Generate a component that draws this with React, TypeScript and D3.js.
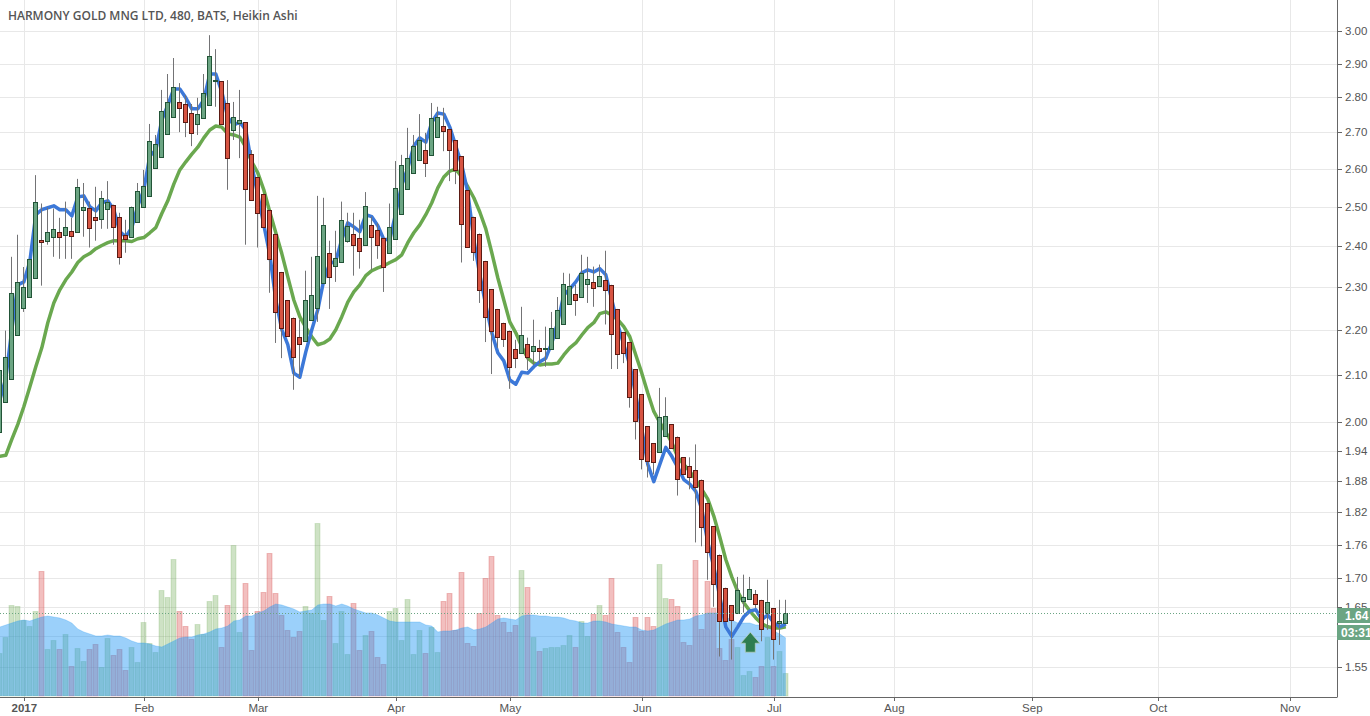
import React from 'react'
import * as d3 from 'd3'

const title = 'HARMONY GOLD MNG LTD, 480, BATS, Heikin Ashi'

const open = [
  1.978, 2.041, 2.090, 2.188, 2.251, 2.276, 2.322, 2.416, 2.413, 2.423,
  2.436, 2.428, 2.438, 2.436, 2.492, 2.497, 2.474, 2.469, 2.495, 2.505,
  2.474, 2.428, 2.423, 2.461, 2.500, 2.528, 2.602, 2.632, 2.696, 2.743,
  2.787, 2.781, 2.755, 2.724, 2.741, 2.778, 2.848, 2.848, 2.784, 2.707,
  2.726, 2.729, 2.640, 2.578, 2.533, 2.492, 2.431, 2.336, 2.269, 2.228,
  2.184, 2.175, 2.223, 2.251, 2.310, 2.383, 2.351, 2.361, 2.413, 2.431,
  2.421, 2.403, 2.453, 2.441, 2.421, 2.383, 2.418, 2.482, 2.546, 2.589,
  2.624, 2.651, 2.638, 2.687, 2.718, 2.710, 2.679, 2.635, 2.544, 2.474,
  2.431, 2.363, 2.295, 2.248, 2.216, 2.198, 2.156, 2.148, 2.168, 2.152,
  2.159, 2.156, 2.156, 2.182, 2.212, 2.260, 2.283, 2.276, 2.307, 2.312,
  2.303, 2.317, 2.305, 2.248, 2.195, 2.172, 2.112, 2.058, 1.990, 1.955,
  1.937, 1.971, 1.994, 1.969, 1.927, 1.909, 1.901, 1.883, 1.837, 1.794,
  1.742, 1.683, 1.653, 1.640, 1.660, 1.664, 1.672, 1.662, 1.640, 1.648,
  1.623, 1.623,
]
const close = [
  2.110, 2.139, 2.286, 2.312, 2.300, 2.368, 2.513, 2.411, 2.436, 2.443,
  2.423, 2.448, 2.426, 2.552, 2.500, 2.446, 2.466, 2.523, 2.513, 2.448,
  2.373, 2.418, 2.500, 2.541, 2.554, 2.676, 2.668, 2.761, 2.787, 2.831,
  2.770, 2.729, 2.699, 2.752, 2.813, 2.923, 2.851, 2.724, 2.629, 2.743,
  2.735, 2.547, 2.518, 2.484, 2.448, 2.368, 2.241, 2.205, 2.186, 2.138,
  2.168, 2.269, 2.281, 2.376, 2.453, 2.324, 2.371, 2.466, 2.451, 2.403,
  2.388, 2.502, 2.423, 2.403, 2.349, 2.448, 2.549, 2.610, 2.629, 2.662,
  2.679, 2.616, 2.741, 2.743, 2.704, 2.651, 2.597, 2.456, 2.398, 2.386,
  2.293, 2.230, 2.198, 2.184, 2.179, 2.117, 2.136, 2.188, 2.138, 2.163,
  2.152, 2.159, 2.205, 2.246, 2.307, 2.303, 2.269, 2.334, 2.319, 2.298,
  2.327, 2.293, 2.191, 2.145, 2.148, 2.052, 2.002, 1.923, 1.919, 1.917,
  2.010, 2.012, 1.945, 1.885, 1.893, 1.889, 1.868, 1.792, 1.747, 1.690,
  1.625, 1.625, 1.628, 1.679, 1.667, 1.681, 1.655, 1.613, 1.658, 1.595,
  1.625, 1.640,
]
const high = [
  2.132, 2.198, 2.373, 2.428, 2.348, 2.368, 2.583, 2.508, 2.497, 2.495,
  2.471, 2.513, 2.471, 2.573, 2.562, 2.513, 2.552, 2.541, 2.567, 2.505,
  2.484, 2.466, 2.500, 2.562, 2.597, 2.724, 2.693, 2.822, 2.869, 2.917,
  2.842, 2.807, 2.781, 2.799, 2.869, 2.987, 2.944, 2.848, 2.851, 2.787,
  2.822, 2.729, 2.651, 2.578, 2.533, 2.492, 2.431, 2.336, 2.269, 2.228,
  2.223, 2.339, 2.373, 2.528, 2.523, 2.413, 2.438, 2.513, 2.484, 2.484,
  2.466, 2.538, 2.474, 2.458, 2.421, 2.508, 2.621, 2.638, 2.713, 2.693,
  2.752, 2.699, 2.784, 2.773, 2.770, 2.710, 2.679, 2.635, 2.544, 2.474,
  2.431, 2.363, 2.295, 2.248, 2.216, 2.198, 2.177, 2.253, 2.182, 2.223,
  2.177, 2.207, 2.241, 2.276, 2.334, 2.332, 2.305, 2.378, 2.373, 2.349,
  2.354, 2.388, 2.305, 2.248, 2.195, 2.172, 2.112, 2.058, 1.990, 1.955,
  2.071, 2.051, 1.994, 1.969, 1.927, 1.927, 1.953, 1.883, 1.837, 1.794,
  1.742, 1.683, 1.653, 1.702, 1.706, 1.702, 1.679, 1.662, 1.697, 1.648,
  1.662, 1.662,
]
const low = [
  1.978, 2.041, 2.090, 2.188, 2.241, 2.276, 2.322, 2.303, 2.403, 2.373,
  2.368, 2.368, 2.368, 2.436, 2.423, 2.396, 2.413, 2.443, 2.443, 2.403,
  2.354, 2.383, 2.423, 2.461, 2.500, 2.528, 2.602, 2.632, 2.696, 2.743,
  2.701, 2.687, 2.662, 2.693, 2.741, 2.778, 2.773, 2.724, 2.544, 2.679,
  2.629, 2.403, 2.518, 2.396, 2.448, 2.286, 2.170, 2.136, 2.186, 2.067,
  2.094, 2.175, 2.223, 2.218, 2.310, 2.248, 2.312, 2.361, 2.408, 2.327,
  2.344, 2.403, 2.341, 2.368, 2.288, 2.383, 2.418, 2.482, 2.546, 2.589,
  2.624, 2.578, 2.638, 2.687, 2.648, 2.567, 2.559, 2.359, 2.398, 2.363,
  2.262, 2.172, 2.101, 2.159, 2.161, 2.069, 2.114, 2.148, 2.110, 2.121,
  2.125, 2.117, 2.156, 2.182, 2.212, 2.260, 2.232, 2.276, 2.262, 2.253,
  2.300, 2.212, 2.112, 2.112, 2.125, 2.029, 1.963, 1.903, 1.887, 1.893,
  1.937, 1.971, 1.945, 1.852, 1.893, 1.864, 1.764, 1.757, 1.697, 1.650,
  1.567, 1.625, 1.562, 1.640, 1.640, 1.664, 1.648, 1.592, 1.611, 1.562,
  1.586, 1.623,
]

const fastMa = [
  2.045, 2.092, 2.200, 2.305, 2.312, 2.361, 2.479, 2.492, 2.497, 2.502,
  2.492, 2.492, 2.476, 2.525, 2.528, 2.500, 2.489, 2.510, 2.515, 2.492,
  2.436, 2.423, 2.446, 2.502, 2.544, 2.635, 2.651, 2.735, 2.778, 2.825,
  2.825, 2.799, 2.767, 2.767, 2.793, 2.869, 2.869, 2.816, 2.743, 2.721,
  2.729, 2.707, 2.610, 2.531, 2.453, 2.378, 2.269, 2.200, 2.166, 2.103,
  2.094, 2.150, 2.200, 2.246, 2.317, 2.356, 2.363, 2.416, 2.458, 2.448,
  2.436, 2.479, 2.474, 2.451, 2.416, 2.416, 2.484, 2.557, 2.602, 2.662,
  2.685, 2.673, 2.729, 2.755, 2.752, 2.715, 2.662, 2.610, 2.537, 2.416,
  2.329, 2.257, 2.193, 2.148, 2.130, 2.088, 2.079, 2.105, 2.103, 2.117,
  2.128, 2.136, 2.170, 2.218, 2.281, 2.295, 2.312, 2.334, 2.341, 2.336,
  2.344, 2.329, 2.269, 2.212, 2.166, 2.121, 2.056, 1.984, 1.913, 1.879,
  1.913, 1.947, 1.929, 1.907, 1.883, 1.874, 1.860, 1.826, 1.764, 1.720,
  1.667, 1.616, 1.600, 1.616, 1.633, 1.643, 1.645, 1.628, 1.636, 1.623,
  1.616, 1.621,
]
const slowMa = [
  1.929, 1.931, 1.963, 1.994, 2.031, 2.073, 2.117, 2.159, 2.216, 2.262,
  2.293, 2.317, 2.336, 2.359, 2.373, 2.381, 2.393, 2.401, 2.408, 2.413,
  2.413, 2.413, 2.411, 2.418, 2.421, 2.433, 2.446, 2.482, 2.515, 2.559,
  2.597, 2.619, 2.640, 2.659, 2.685, 2.707, 2.718, 2.715, 2.696, 2.693,
  2.687, 2.659, 2.619, 2.589, 2.544, 2.486, 2.433, 2.381, 2.324, 2.269,
  2.230, 2.205, 2.184, 2.166, 2.170, 2.179, 2.200, 2.230, 2.264, 2.288,
  2.305, 2.327, 2.339, 2.346, 2.351, 2.359, 2.366, 2.378, 2.408, 2.433,
  2.453, 2.479, 2.510, 2.549, 2.578, 2.594, 2.599, 2.578, 2.552, 2.523,
  2.486, 2.443, 2.383, 2.322, 2.269, 2.218, 2.193, 2.161, 2.136, 2.125,
  2.121, 2.123, 2.123, 2.125, 2.143, 2.159, 2.170, 2.188, 2.205, 2.216,
  2.237, 2.241, 2.234, 2.223, 2.207, 2.184, 2.143, 2.103, 2.060, 2.021,
  1.998, 1.978, 1.957, 1.927, 1.913, 1.899, 1.883, 1.864, 1.845, 1.813,
  1.774, 1.733, 1.702, 1.676, 1.657, 1.643, 1.631, 1.621, 1.616, 1.614,
  1.614, 1.616,
]

const volume = [
  43, 59, 91, 90, 76, 70, 85, 125, 47, 56,
  47, 62, 30, 48, 35, 47, 52, 29, 58, 41,
  47, 26, 49, 34, 74, 53, 44, 106, 99, 137,
  85, 70, 57, 72, 62, 95, 101, 49, 91, 151,
  64, 113, 46, 85, 104, 143, 103, 81, 66, 59,
  65, 90, 83, 173, 76, 100, 53, 85, 42, 93,
  46, 61, 65, 39, 32, 85, 88, 56, 97, 42,
  66, 43, 69, 44, 95, 103, 66, 124, 53, 50,
  83, 118, 140, 81, 74, 64, 71, 126, 109, 59,
  45, 48, 49, 49, 51, 61, 49, 75, 60, 82,
  91, 81, 118, 64, 49, 34, 79, 65, 79, 70,
  132, 98, 97, 90, 54, 51, 136, 67, 115, 88,
  48, 36, 57, 49, 21, 25, 19, 30, 59, 30,
  45, 23,
]
const volumeMa = [
  69, 71, 73, 75, 76, 75, 77, 79, 80, 79,
  78, 76, 73, 67, 64, 62, 60, 60, 61, 60,
  60, 58, 55, 53, 53, 52, 50, 49, 52, 55,
  58, 59, 59, 61, 62, 64, 67, 68, 70, 75,
  76, 80, 80, 83, 85, 89, 92, 91, 89, 87,
  84, 85, 86, 91, 92, 92, 90, 92, 90, 87,
  85, 83, 83, 81, 78, 75, 74, 74, 74, 74,
  74, 71, 70, 64, 65, 65, 66, 68, 69, 66,
  67, 69, 73, 77, 78, 77, 76, 80, 81, 81,
  80, 80, 79, 79, 78, 76, 75, 73, 73, 75,
  75, 74, 72, 71, 70, 69, 69, 66, 65, 66,
  69, 72, 74, 76, 76, 77, 80, 81, 83, 83,
  83, 79, 76, 73, 73, 73, 71, 71, 69, 65,
  62, 58,
]

const priceTicks = [3, 2.9, 2.8, 2.7, 2.6, 2.5, 2.4, 2.3, 2.2, 2.1, 2, 1.94, 1.88, 1.82, 1.76, 1.7, 1.65, 1.6, 1.55]
const timeTicks = [
  { bar: 4, label: '2017' },
  { bar: 24, label: 'Feb' },
  { bar: 43, label: 'Mar' },
  { bar: 66, label: 'Apr' },
  { bar: 85, label: 'May' },
  { bar: 107, label: 'Jun' },
  { bar: 129, label: 'Jul' },
  { bar: 149, label: 'Aug' },
  { bar: 172, label: 'Sep' },
  { bar: 193, label: 'Oct' },
  { bar: 215, label: 'Nov' },
]
const lastPrice = 1.64
const countdown = '03:31:'
const signalBar = 125
const signalPrice = 1.607

const W = 1370
const H = 716
const axisX = 1337
const axisY = 697
const font = '"Liberation Sans", Arial, sans-serif'
const labelColor = '#555'
const gridColor = '#e8e8e8'

const bars = d3.range(open.length)

const x = d3.scaleLinear().domain([0, 215]).range([-0.7, 1289.3])
const y = d3.scaleLog().domain([3, 1.55]).range([31, 667])
const yVol = d3.scaleLinear().domain([0, 173]).range([696, 523])

// snap to the pixel grid so 1px strokes stay sharp
const px = (v: number) => Math.round(v) + 0.5

const lineOf = (values: number[]) =>
  d3.line<number>().x(i => x(i) + 0.5).y(i => y(values[i]))(bars) as string

const volArea = d3.area<number>()
  .x(i => x(i) + 0.5)
  .y0(yVol(0))
  .y1(i => yVol(volumeMa[i]))(bars) as string

export default function App() {
  const tipX = x(signalBar) + 1
  const tipY = y(signalPrice)
  const lastY = px(y(lastPrice))
  return (
    <svg width={W} height={H} style={{ position: 'absolute', left: 0, top: 0, background: '#fff' }}>
      {/* grid */}
      {priceTicks.map(t => (
        <line key={t} x1={0} x2={axisX} y1={px(y(t))} y2={px(y(t))} stroke={gridColor} />
      ))}
      {timeTicks.map(t => (
        <line key={t.label} x1={px(x(t.bar)) + 1} x2={px(x(t.bar)) + 1} y1={0} y2={axisY} stroke={gridColor} />
      ))}

      {/* volume */}
      {bars.map(i => {
        const up = close[i] >= open[i]
        const c = up ? 'rgba(106,168,79,0.33)' : 'rgba(224,102,102,0.42)'
        const s = up ? 'rgba(106,168,79,0.22)' : 'rgba(204,70,70,0.3)'
        const top = px(yVol(volume[i]))
        return (
          <rect key={i} x={px(x(i)) - 2.5 } width={5} y={top} height={yVol(0) - top} fill={c} stroke={s} />
        )
      })}
      <path d={volArea} fill="rgba(33,150,243,0.45)" />
      <path d={d3.line<number>().x(i => x(i) + 0.5).y(i => yVol(volumeMa[i]))(bars) as string} fill="none" stroke="rgba(33,150,243,0.25)" />

      {/* moving averages */}
      <path d={lineOf(slowMa)} fill="none" stroke="#6aa84f" strokeWidth={3.5} strokeLinejoin="round" />
      <path d={lineOf(fastMa)} fill="none" stroke="#3c78d8" strokeWidth={3.5} strokeLinejoin="round" />

      {/* candles */}
      {bars.map(i => {
        const up = close[i] >= open[i]
        const top = px(y(Math.max(open[i], close[i])))
        const bottom = px(y(Math.min(open[i], close[i])))
        return (
          <g key={i}>
            <line x1={px(x(i))} x2={px(x(i))} y1={y(high[i])} y2={y(low[i])} stroke="#737375" />
            <rect
              x={px(x(i)) - 2}
              width={4}
              y={top}
              height={Math.max(bottom - top, 1)}
              fill={up ? '#6ba583' : '#d75442'}
              stroke={up ? '#225437' : '#5b1a13'}
            />
          </g>
        )
      })}

      {/* signal arrow */}
      <path
        d={`M${tipX},${tipY}l9.5,11h-4.5v9h-10v-9h-4.5z`}
        fill="#2e7d50"
        stroke="#b7cfc0"
        strokeWidth={0.8}
      />

      {/* last price line */}
      <line x1={0} x2={axisX} y1={lastY} y2={lastY} stroke="#6ba583" strokeDasharray="1 2" />

      {/* axes */}
      <line x1={0} x2={axisX + 0.5} y1={axisY + 0.5} y2={axisY + 0.5} stroke="#666" />
      <line x1={axisX + 0.5} x2={axisX + 0.5} y1={0} y2={axisY} stroke="#666" />
      {priceTicks.map(t => (
        <g key={t}>
          <line x1={axisX} x2={axisX + 5} y1={px(y(t))} y2={px(y(t))} stroke="#666" />
          <text x={axisX + 8} y={y(t) + 4} fontFamily={font} fontSize={11.5} fill={labelColor}>
            {d3.format('.2f')(t)}
          </text>
        </g>
      ))}
      {timeTicks.map(t => (
        <g key={t.label}>
          <line x1={px(x(t.bar)) + 1} x2={px(x(t.bar)) + 1} y1={axisY} y2={axisY + 4} stroke="#666" />
          <text
            x={x(t.bar) + 1}
            y={axisY + 15}
            textAnchor="middle"
            fontFamily={font}
            fontSize={11.5}
            fontWeight={t.label === '2017' ? 'bold' : 'normal'}
            fill={labelColor}
          >
            {t.label}
          </text>
        </g>
      ))}

      {/* price and countdown tags */}
      <rect x={axisX} y={lastY - 5.5} width={W - axisX} height={15} fill="#6ba583" />
      <text x={axisX + 8} y={lastY + 6.5} fontFamily={font} fontSize={12} fontWeight="bold" fill="#fff">
        {d3.format('.2f')(lastPrice)}
      </text>
      <rect x={axisX} y={lastY + 11.5} width={W - axisX} height={15} fill="#6ba583" />
      <text x={axisX + 4} y={lastY + 23.5} fontFamily={font} fontSize={12} fontWeight="bold" fill="#fff">
        {countdown}
      </text>

      <text x={8} y={20} fontFamily='"Open Sans", sans-serif' fontSize={12} fontWeight={600} fill={labelColor}>
        {title}
      </text>
    </svg>
  )
}
